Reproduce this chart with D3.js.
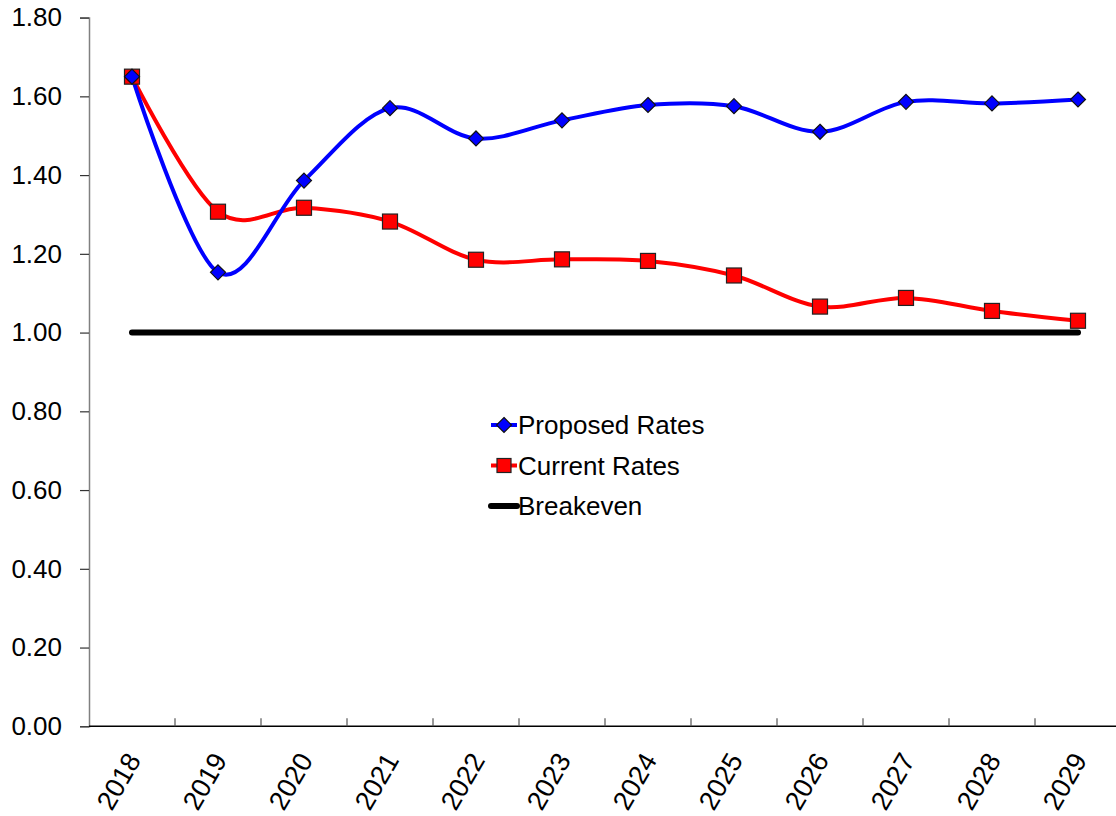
<!DOCTYPE html>
<html>
<head>
<meta charset="utf-8">
<script src="https://cdn.jsdelivr.net/npm/d3@7/dist/d3.min.js"></script>
<style>
  html, body { margin: 0; padding: 0; background: #fff; }
  svg { display: block; font-family: "Liberation Sans", Arial, sans-serif; }
</style>
</head>
<body>
<svg id="chart" width="1116" height="816"></svg>
<script>
// Coverage ratio by year
const years = ["2018","2019","2020","2021","2022","2023","2024","2025","2026","2027","2028","2029"];
const proposedRates = [1.650, 1.153, 1.386, 1.570, 1.493, 1.539, 1.578, 1.575, 1.510, 1.586, 1.582, 1.592];
const currentRates  = [1.650, 1.307, 1.317, 1.282, 1.185, 1.186, 1.182, 1.145, 1.066, 1.088, 1.055, 1.030];
const breakeven     = years.map(() => 1.00);
const yTicks = [0, 0.2, 0.4, 0.6, 0.8, 1.0, 1.2, 1.4, 1.6, 1.8];

(function () {
const svg = d3.select("#chart");
const plotLeft = 89, plotRight = 1121, plotTop = 17.6, plotBottom = 726.3;

const x = d3.scaleBand().domain(years).range([plotLeft, plotRight]);
const cx = d => x(d) + x.bandwidth() / 2;
const y = d3.scaleLinear().domain([0, 1.8]).range([plotBottom, plotTop]);

// Y axis
const yAxis = svg.append("g")
  .attr("transform", `translate(${plotLeft},0)`)
  .call(d3.axisLeft(y).tickValues(yTicks).tickFormat(d3.format(".2f")).tickSize(9).tickPadding(18));
yAxis.select(".domain").attr("stroke", "#808080").attr("stroke-width", 1.5);
yAxis.selectAll(".tick line").attr("stroke", "#333").attr("stroke-width", 1.2);
yAxis.selectAll(".tick text").attr("font-size", 26).attr("fill", "#000")
  .attr("font-family", "'Liberation Sans', Arial, sans-serif");

// X axis with inward ticks at category boundaries
const xg = svg.append("g");
xg.append("line").attr("x1", plotLeft).attr("x2", plotRight).attr("y1", plotBottom).attr("y2", plotBottom)
  .attr("stroke", "#000").attr("stroke-width", 1.5);
xg.selectAll("line.tk").data(years).enter().append("line")
  .attr("class", "tk")
  .attr("x1", d => x(d) + x.bandwidth())
  .attr("x2", d => x(d) + x.bandwidth())
  .attr("y1", plotBottom).attr("y2", plotBottom - 8)
  .attr("stroke", "#555").attr("stroke-width", 1.2);
xg.selectAll("text").data(years).enter().append("text")
  .attr("transform", d => `translate(${cx(d) - 7},${plotBottom + 24}) rotate(-60)`)
  .attr("text-anchor", "end")
  .attr("dy", "0.72em")
  .attr("font-size", 27)
  .attr("fill", "#000")
  .text(d => d);

// Breakeven line
const straight = d3.line().x((d, i) => cx(years[i])).y(d => y(d));
svg.append("path").datum(breakeven)
  .attr("d", straight)
  .attr("fill", "none").attr("stroke", "#000").attr("stroke-width", 6)
  .attr("stroke-linecap", "round");

// Smoothed series
const smooth = d3.line().x((d, i) => cx(years[i])).y(d => y(d)).curve(d3.curveCardinal.tension(0));

svg.append("path").datum(currentRates)
  .attr("d", smooth).attr("fill", "none").attr("stroke", "#FF0000").attr("stroke-width", 4);
svg.append("path").datum(proposedRates)
  .attr("d", smooth).attr("fill", "none").attr("stroke", "#0000FF").attr("stroke-width", 4);

const diamond = (px, py, r) => `M${px},${py - r}L${px + r},${py}L${px},${py + r}L${px - r},${py}Z`;

// Square markers for current rates
svg.selectAll("rect.cur").data(currentRates).enter().append("rect")
  .attr("class", "cur")
  .attr("x", (d, i) => cx(years[i]) - 7.5).attr("y", d => y(d) - 7.5)
  .attr("width", 15).attr("height", 15)
  .attr("fill", "#FF0000").attr("stroke", "#222").attr("stroke-width", 1.2);

// Diamond markers for proposed rates
svg.selectAll("path.prop").data(proposedRates).enter().append("path")
  .attr("class", "prop")
  .attr("d", (d, i) => diamond(cx(years[i]), y(d), 7.5))
  .attr("fill", "#0000FF").attr("stroke", "#111").attr("stroke-width", 1.2);

// Legend
const legendItems = [
  { name: "Proposed Rates", color: "#0000FF", marker: "diamond", width: 4 },
  { name: "Current Rates", color: "#FF0000", marker: "square", width: 4 },
  { name: "Breakeven", color: "#000", marker: null, width: 6 }
];
const lg = svg.append("g");
legendItems.forEach((it, i) => {
  const ly = 425 + i * 40.5;
  lg.append("line").attr("x1", 491).attr("x2", 517).attr("y1", ly).attr("y2", ly)
    .attr("stroke", it.color).attr("stroke-width", it.width).attr("stroke-linecap", it.marker ? "butt" : "round");
  if (it.marker === "diamond") {
    lg.append("path").attr("d", diamond(504, ly, 7.5))
      .attr("fill", it.color).attr("stroke", "#111").attr("stroke-width", 1.2);
  } else if (it.marker === "square") {
    lg.append("rect").attr("x", 497).attr("y", ly - 7).attr("width", 14).attr("height", 14)
      .attr("fill", it.color).attr("stroke", "#222").attr("stroke-width", 1.2);
  }
  lg.append("text").attr("x", 518).attr("y", ly).attr("dy", "0.36em")
    .attr("font-size", 26).attr("fill", "#000").text(it.name);
});
})();
</script>
</body>
</html>
